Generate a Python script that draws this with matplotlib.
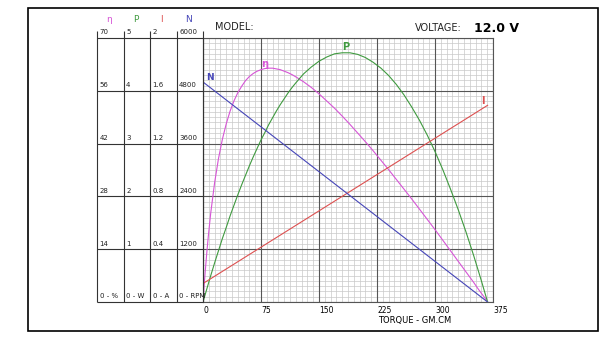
import numpy as np
import matplotlib
matplotlib.use("Agg")
from matplotlib import pyplot as plt
from matplotlib.patches import Rectangle

# motor performance at 12.0 V, torque in gm.cm
torque = [0, 1, 2, 3, 5, 7, 10, 15, 20, 25,
          30, 35, 40, 45, 50, 55, 60, 65, 70, 75,
          80, 85, 90, 95, 100, 105, 110, 115, 120, 130,
          140, 150, 160, 170, 180, 190, 200, 210, 220, 230,
          240, 250, 260, 270, 280, 290, 300, 310, 320, 330,
          340, 350, 355, 360, 364, 368]
power = [0, 0.05, 0.10, 0.15, 0.25, 0.35, 0.50, 0.74, 0.97, 1.20,
         1.41, 1.63, 1.83, 2.03, 2.22, 2.40, 2.58, 2.75, 2.91, 3.07,
         3.21, 3.36, 3.49, 3.62, 3.74, 3.85, 3.96, 4.06, 4.15, 4.32,
         4.45, 4.56, 4.64, 4.70, 4.72, 4.72, 4.69, 4.63, 4.54, 4.43,
         4.29, 4.12, 3.92, 3.69, 3.44, 3.16, 2.85, 2.51, 2.14, 1.75,
         1.33, 0.88, 0.64, 0.40, 0.20, 0]
eff = [0, 3.0, 5.8, 8.4, 13.3, 17.7, 23.6, 31.6, 38.0, 43.1,
       47.2, 50.6, 53.3, 55.5, 57.2, 58.7, 59.8, 60.6, 61.2, 61.6,
       61.9, 62.0, 62.0, 61.8, 61.6, 61.2, 60.8, 60.3, 59.7, 58.4,
       56.9, 55.2, 53.3, 51.4, 49.3, 47.1, 44.8, 42.5, 40.1, 37.6,
       35.1, 32.5, 29.9, 27.3, 24.6, 21.9, 19.2, 16.4, 13.6, 10.8,
       8.0, 5.2, 3.7, 2.3, 1.2, 0]
torque_line = [0, 368]
speed = [5000, 0]
current = [0.14, 1.49]

x_ticks = [0, 75, 150, 225, 300, 375]
eta_ticks = [0, 14, 28, 42, 56, 70]
p_labels = ["0 - W", "1", "2", "3", "4", "5"]
i_labels = ["0 - A", "0.4", "0.8", "1.2", "1.6", "2"]
n_labels = ["0 - RPM", "1200", "2400", "3600", "4800", "6000"]
eta_labels = ["0 - %", "14", "28", "42", "56", "70"]

c_eta = "#d655d6"
c_p = "#3f9a3f"
c_i = "#dd5050"
c_n = "#4646b8"

W, H = 612, 345
fig = plt.figure(figsize=(W / 100, H / 100), dpi=100)
fig.add_artist(Rectangle((28 / W, 1 - 331 / H), 570 / W, 323 / H,
                         transform=fig.transFigure, fill=False,
                         edgecolor="black", lw=1.2))

ax = fig.add_axes([203 / W, 43 / H, 290 / W, 264 / H])
ax.set_xlim(0, 375)
ax.set_ylim(0, 70)
ax.set_xticks(x_ticks)
ax.set_xticklabels([str(t) for t in x_ticks], fontsize=5.5, ha="left")
ax.set_yticks([])
ax.tick_params(which="both", length=0, pad=3)
for s in ax.spines.values():
    s.set_color("#555555")
    s.set_linewidth(0.8)

# graph paper: fine lines first, heavy lines over them
ax.vlines(np.arange(0, 375.1, 7.5), 0, 70, color="#c9c9c9", lw=0.5, zorder=0.5)
ax.hlines(np.arange(0, 70.1, 1.4), 0, 375, color="#c9c9c9", lw=0.5, zorder=0.5)
ax.vlines(x_ticks, 0, 70, color="#555555", lw=0.8, zorder=0.6)
ax.hlines(eta_ticks, 0, 375, color="#555555", lw=0.8, zorder=0.6)

ax.plot(torque, eff, color=c_eta, lw=0.8)
ax.text(75, 62.3, "η", color=c_eta, fontsize=7, fontweight="bold")

axp = ax.twinx()
axp.set_ylim(0, 5)
axp.plot(torque, power, color=c_p, lw=0.8)
axp.text(184, 4.78, "P", color=c_p, fontsize=7, ha="center", fontweight="bold")

axi = ax.twinx()
axi.set_ylim(0, 2)
axi.plot(torque_line, current, color=c_i, lw=0.8)
axi.text(362, 1.5, "I", color=c_i, fontsize=7, ha="center", fontweight="bold")

axn = ax.twinx()
axn.set_ylim(0, 6000)
axn.plot(torque_line, speed, color=c_n, lw=0.8)
axn.text(4, 5050, "N", color=c_n, fontsize=6.5, fontweight="bold")

for a in (axp, axi, axn):
    a.set_yticks([])
    for s in a.spines.values():
        s.set_visible(False)

ax.text(375 * 0.605, -5, "TORQUE - GM.CM", fontsize=6, ha="left", va="center")
ax.text(0.04, 1.04, "MODEL:", transform=ax.transAxes, fontsize=7,
        va="center", color="#222222")
fig.text(462 / W, 1 - 28 / H, "VOLTAGE:", fontsize=7, ha="right",
         va="center", color="#222222")
fig.text(474 / W, 1 - 28 / H, "12.0 V", fontsize=9, fontweight="bold",
         ha="left", va="center")

# scale table on the left
tab = fig.add_axes([97 / W, 43 / H, 106 / W, 264 / H])
tab.set_xlim(0, 4)
tab.set_ylim(0, 70)
tab.axis("off")
tab.vlines(range(5), 0, 71.9, color="#333333", lw=0.8, clip_on=False)
tab.hlines(eta_ticks, 0, 4, color="#333333", lw=0.8, clip_on=False)
for col, labels in enumerate([eta_labels, p_labels, i_labels, n_labels]):
    for y, lab in zip(eta_ticks, labels):
        tab.text(col + 0.1, y + 0.7, lab, fontsize=5, va="bottom",
                 ha="left", color="#222222")
for col, (name, c) in enumerate(zip(["η", "P", "I", "N"],
                                    [c_eta, c_p, c_i, c_n])):
    tab.text(col + 0.45, 74.8, name, color=c, fontsize=6.5, ha="center",
             va="center")

fig.savefig("out.png", dpi=100)
